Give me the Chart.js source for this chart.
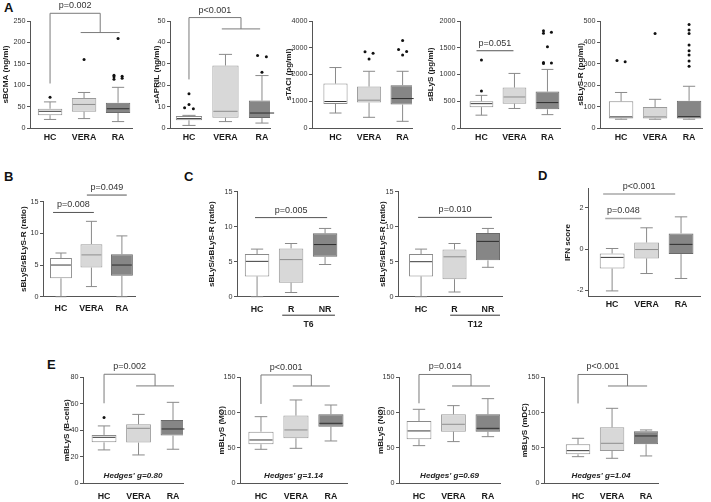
<!DOCTYPE html>
<html>
<head>
<meta charset="utf-8">
<script src="https://cdn.jsdelivr.net/npm/chart.js@4.4.1/dist/chart.umd.min.js"></script>
<style>
  body { margin: 0; width: 711px; height: 502px; position: relative; overflow: hidden; background: #fff; font-family: "Liberation Sans", Arial, sans-serif; }
  canvas { position: absolute; }
  .lt { position: absolute; font-weight: bold; font-size: 13px; color: #111; line-height: 14px; }
</style>
</head>
<body>
<div class="lt" style="left:4px;top:1px">A</div>
<div class="lt" style="left:4px;top:170px">B</div>
<div class="lt" style="left:184px;top:170px">C</div>
<div class="lt" style="left:538px;top:169px">D</div>
<div class="lt" style="left:47px;top:358px">E</div>
<script>
// the figure uses a condensed face; fall back to a scaled regular one when it is missing
const probe = document.createElement('canvas').getContext('2d');
function hasFont(name) {
  probe.font = '20px monospace';
  const a = probe.measureText('VERA HC 0123').width;
  probe.font = '20px "' + name + '", monospace';
  return probe.measureText('VERA HC 0123').width !== a;
}
const NARROW = hasFont('Liberation Sans Narrow');
const FAM = NARROW ? '"Liberation Sans Narrow", "Liberation Sans", Arial, sans-serif' : '"Liberation Sans", Arial, sans-serif';
const fs = s => NARROW ? s : Math.round(s * 0.9 * 10) / 10;
Chart.defaults.font.family = FAM;

const groups = ['HC', 'VERA', 'RA'];
const groupsT = ['HC', 'R', 'NR'];

// each box: [whisker low, q1, median, q3, whisker high]
const sBCMA = [[20, 30, 39, 45, 61], [22, 38, 55, 70, 83], [15, 35, 45, 59, 95]];
const sBCMAOut = [[72], [160], [209, 123, 121, 120, 116, 114]];
const sBCMATicks = [0, 50, 100, 150, 200, 250];

const sAPRIL = [[1.2, 3.6, 4.4, 5.6, 5.9], [3.0, 4.8, 7.8, 29.2, 34.4], [2.3, 4.7, 7.0, 12.8, 24.5]];
const sAPRILOut = [[16, 11, 9.5, 9], [], [33.9, 33.3, 26]];
const sAPRILTicks = [0, 10, 20, 30, 40, 50];

const sTACI = [[560, 900, 990, 1660, 2260], [400, 950, 1040, 1550, 2120], [250, 880, 1100, 1600, 2120]];
const sTACIOut = [[], [2850, 2790, 2580], [3270, 2930, 2860, 2730]];
const sTACITicks = [0, 1000, 2000, 3000, 4000];

const sBLyS = [[240, 390, 455, 500, 610], [365, 455, 580, 755, 1020], [250, 350, 475, 680, 1095]];
const sBLySOut = [[1270, 690], [], [1820, 1790, 1770, 1520, 1225, 1215, 1205]];
const sBLySTicks = [0, 500, 1000, 1500, 2000];

const sBLySR = [[41, 44, 52, 125, 166], [41, 44, 52, 98, 134], [41, 44, 53, 127, 195]];
const sBLySROut = [[316, 309], [442], [484, 458, 442, 388, 361, 341, 313, 289]];
const sBLySRTicks = [0, 100, 200, 300, 400, 500];

const ratioB = [[0, 2.9, 5.0, 6.1, 6.9], [1.6, 4.6, 6.6, 8.3, 11.9], [0, 3.3, 5.0, 6.7, 9.6]];
const ratioT6 = [[0, 2.9, 5.05, 6.1, 6.8], [0.6, 2.0, 5.3, 6.9, 7.6], [4.6, 5.7, 7.45, 9.05, 9.75]];
const ratioT12 = [[0, 2.9, 5.0, 6.1, 6.8], [0.67, 2.5, 5.7, 6.75, 7.6], [4.2, 5.2, 7.9, 9.1, 9.75]];
const ratioTicks = [0, 5, 10, 15];

const ifn = [[-2.02, -0.94, -0.4, -0.21, 0.03], [-1.18, -0.45, -0.02, 0.32, 1.03], [-1.42, -0.24, 0.23, 0.76, 1.56]];
const ifnTicks = [-2, 0, 2];

const mBcell = [[25.2, 30.9, 34.7, 36.5, 43.3], [21.4, 30.7, 41.5, 44.5, 52], [25.7, 36, 41, 47.8, 61.1]];
const mBcellOut = [[49.6], [], []];
const mBcellTicks = [0, 20, 40, 60, 80];
const mMac = [[48.1, 55.2, 61.3, 73.1, 94.3], [49.5, 63.7, 75.5, 95.8, 117.9], [59.9, 80.2, 84.9, 97.6, 110.8]];
const mNeu = [[53.3, 62.3, 74.1, 88.2, 104.7], [59, 73.1, 83.5, 97.6, 109.9], [66, 73.1, 77.8, 97.6, 119.8]];
const mDC = [[37.7, 41, 46.2, 55.2, 63.7], [35.4, 45.8, 56.6, 79.2, 106.1], [38.7, 55.2, 67, 73.6, 75.5]];
const mTicks = [0, 50, 100, 150];

// significance marks (y in data units, from/to in group positions)
const pBCMA = { p: 'p=0.002', leg: 104, top: 268, bar: 223, from: 1.9, to: 3.05 };
const pAPRIL = { p: 'p<0.001', leg: 22.7, top: 51.6, bar: 46.3, from: 1.9, to: 2.95 };
const pBLyS = [{ p: 'p=0.051', y: 1444, from: 0.85, to: 1.97 }];
const pB = [{ p: 'p=0.008', y: 13.3, from: 0.74, to: 2.08 }, { p: 'p=0.049', y: 16.05, from: 1.85, to: 3.16 }];
const pT6 = [{ p: 'p=0.005', y: 11.3, from: 0.94, to: 3.06 }];
const pT12 = [{ p: 'p=0.010', y: 11.33, from: 0.91, to: 3.12 }];
const pIFN = [{ p: 'p=0.048', y: 1.48, from: 0.8, to: 1.85 }, { p: 'p<0.001', y: 2.66, from: 0.74, to: 2.83 }];
const pBcell = { p: 'p=0.002', leg: 60.4, top: 82.3, bar: 73.5, from: 1.93, to: 3.03 };
const pMac = { p: 'p<0.001', leg: 112.3, top: 153.3, bar: 137.7, from: 1.91, to: 2.97 };
const pNeu = { p: 'p=0.014', leg: 113.2, top: 154, bar: 137.7, from: 1.96, to: 3.06 };
const pDC = { p: 'p<0.001', leg: 113, top: 154, bar: 137.7, from: 1.88, to: 3.03 };
const hedges = ["Hedges' g=0.80", "Hedges' g=1.14", "Hedges' g=0.69", "Hedges' g=1.04"];

const fills = ['#ffffff', '#d8d8d8', '#868686'];
const edges = ['#8a8a8a', '#9a9a9a', '#6a6a6a'];
const medians = ['#3a3a3a', '#8e8e8e', '#2e2e2e'];

// plot rectangles: ax = y axis x, top/bottom = pixel of y max/min, xr = x range
const panels = [
  { labels: groups, stats: sBCMA, out: sBCMAOut, ticks: sBCMATicks, title: 'sBCMA (ng/ml)', bracket: pBCMA,
    L: { ax: 30, top: 21, right: 132, bottom: 128, yw: 29, xr: [0.41, 3.41], xp: 4 } },
  { labels: groups, stats: sAPRIL, out: sAPRILOut, ticks: sAPRILTicks, title: 'sAPRIL (ng/ml)', bracket: pAPRIL,
    L: { ax: 170, top: 21, right: 270, bottom: 128, yw: 18, xr: [0.48, 3.22], xp: 4 } },
  { labels: groups, stats: sTACI, out: sTACIOut, ticks: sTACITicks, title: 'sTACI (pg/ml)',
    L: { ax: 312, top: 21, right: 412, bottom: 128, yw: 28, xr: [0.30, 3.28], xp: 4 } },
  { labels: groups, stats: sBLyS, out: sBLySOut, ticks: sBLySTicks, title: 'sBLyS (pg/ml)', lines: pBLyS,
    L: { ax: 460, top: 21, right: 560, bottom: 128, yw: 34, xr: [0.35, 3.38], xp: 4 } },
  { labels: groups, stats: sBLySR, out: sBLySROut, ticks: sBLySRTicks, title: 'sBLyS-R (pg/ml)',
    L: { ax: 600, top: 21, right: 702, bottom: 128, yw: 24, xr: [0.38, 3.38], xp: 4 } },
  { labels: groups, stats: ratioB, ticks: ratioTicks, title: 'sBLyS/sBLyS-R (ratio)', lines: pB,
    L: { ax: 43, top: 201.7, right: 135, bottom: 296.7, yw: 24, xr: [0.41, 3.43], xp: 7 } },
  { labels: groupsT, stats: ratioT6, ticks: ratioTicks, title: 'sBLyS/sBLyS-R (ratio)', lines: pT6,
    under: { label: 'T6', from: 1.74, to: 3.29 },
    L: { ax: 237, top: 191.7, right: 338, bottom: 296.7, yw: 30, xr: [0.41, 3.38], xp: 8 } },
  { labels: groupsT, stats: ratioT12, ticks: ratioTicks, title: 'sBLyS/sBLyS-R (ratio)', lines: pT12,
    under: { label: 'T12', from: 1.87, to: 3.36 },
    L: { ax: 398, top: 191.7, right: 502, bottom: 296.7, yw: 20, xr: [0.31, 3.42], xp: 8 } },
  { labels: groups, stats: ifn, ticks: ifnTicks, ymin: -2.3, ymax: 2.94, title: 'IFN score', lines: pIFN, lineColor: '#a8a8a8',
    L: { ax: 588, top: 188.3, right: 700, bottom: 296.7, yw: 25, xr: [0.30, 3.55], xp: 3 } },
  { labels: groups, stats: mBcell, out: mBcellOut, ticks: mBcellTicks, title: 'mBLyS (B-cells)', bracket: pBcell, hedges: hedges[0],
    L: { ax: 83, top: 377.3, right: 183, bottom: 483.3, yw: 21, xr: [0.39, 3.29], xp: 7.5 } },
  { labels: groups, stats: mMac, ticks: mTicks, title: 'mBLyS (MØ)', bracket: pMac, hedges: hedges[1],
    L: { ax: 240, top: 377.3, right: 347, bottom: 483.3, yw: 23, xr: [0.40, 3.46], xp: 7.5 } },
  { labels: groups, stats: mNeu, ticks: mTicks, title: 'mBLyS (NØ)', bracket: pNeu, hedges: hedges[2],
    L: { ax: 399, top: 377.3, right: 500, bottom: 483.3, yw: 23, xr: [0.42, 3.35], xp: 7.5 } },
  { labels: groups, stats: mDC, ticks: mTicks, title: 'mBLyS (mDC)', bracket: pDC, hedges: hedges[3],
    L: { ax: 544, top: 377.3, right: 658, bottom: 483.3, yw: 24, xr: [0.00, 3.35], xp: 7.5 } }
];

// spread outliers that sit close together, like the prism dot plots
function jitter(vals, span) {
  const res = [];
  let cl = [];
  const flush = () => {
    cl.forEach((v, k) => res.push({ v: v, d: cl.length > 1 ? (k % 2 ? 0.12 : -0.12) : 0 }));
    cl = [];
  };
  vals.forEach(v => {
    if (cl.length && Math.abs(cl[cl.length - 1] - v) > span * 0.025) flush();
    cl.push(v);
  });
  flush();
  return res;
}

function line(ctx, x1, y1, x2, y2) {
  ctx.beginPath(); ctx.moveTo(x1, y1); ctx.lineTo(x2, y2); ctx.stroke();
}

function makeExtras(p) {
  return {
    id: 'extras',
    afterDatasetsDraw(chart) {
      const ctx = chart.ctx, x = chart.scales.x, y = chart.scales.y;
      const half = (x.getPixelForValue(2) - x.getPixelForValue(1)) * 0.72 / 2;
      ctx.save();
      ctx.lineWidth = 1;
      p.stats.forEach((s, i) => {
        const cx = x.getPixelForValue(i + 1);
        ctx.strokeStyle = '#8a8a8a';
        line(ctx, cx, y.getPixelForValue(s[0]), cx, y.getPixelForValue(s[1]));
        line(ctx, cx, y.getPixelForValue(s[3]), cx, y.getPixelForValue(s[4]));
        line(ctx, cx - half * 0.5, y.getPixelForValue(s[0]), cx + half * 0.5, y.getPixelForValue(s[0]));
        line(ctx, cx - half * 0.5, y.getPixelForValue(s[4]), cx + half * 0.5, y.getPixelForValue(s[4]));
        ctx.strokeStyle = medians[i];
        line(ctx, cx - half + 1, y.getPixelForValue(s[2]), cx + half - 1, y.getPixelForValue(s[2]));
      });
      ctx.restore();
    },
    afterDraw(chart) {
      const ctx = chart.ctx, x = chart.scales.x, y = chart.scales.y, a = chart.chartArea;
      ctx.save();
      ctx.lineWidth = 1;
      ctx.textAlign = 'center';
      ctx.textBaseline = 'middle';
      ctx.font = fs(10) + 'px ' + FAM;
      if (p.bracket) {
        const b = p.bracket;
        const x1 = x.getPixelForValue(1), xm = x.getPixelForValue((b.from + b.to) / 2);
        const yt = y.getPixelForValue(b.top), yb = y.getPixelForValue(b.bar);
        ctx.strokeStyle = '#7a7a7a';
        ctx.beginPath();
        ctx.moveTo(x1, y.getPixelForValue(b.leg));
        ctx.lineTo(x1, yt); ctx.lineTo(xm, yt); ctx.lineTo(xm, yb);
        ctx.stroke();
        line(ctx, x.getPixelForValue(b.from), yb, x.getPixelForValue(b.to), yb);
        ctx.fillStyle = '#333';
        ctx.fillText(b.p, (x1 + xm) / 2, yt - 7.5);
      }
      (p.lines || []).forEach(l => {
        const yy = y.getPixelForValue(l.y);
        const x1 = x.getPixelForValue(l.from), x2 = x.getPixelForValue(l.to);
        ctx.strokeStyle = p.lineColor || '#555';
        ctx.lineWidth = p.lineColor ? 1.5 : 1;
        line(ctx, x1, yy, x2, yy);
        ctx.fillStyle = '#333';
        ctx.fillText(l.p, (x1 + x2) / 2, yy - 7.5);
      });
      if (p.hedges) {
        ctx.font = 'italic bold ' + fs(9) + 'px ' + FAM;
        ctx.fillStyle = '#222';
        ctx.fillText(p.hedges, (a.left + a.right) / 2, a.bottom - 8);
      }
      if (p.under) {
        const x1 = x.getPixelForValue(p.under.from), x2 = x.getPixelForValue(p.under.to);
        ctx.strokeStyle = '#333';
        ctx.lineWidth = 1;
        line(ctx, x1, a.bottom + 18.5, x2, a.bottom + 18.5);
        ctx.font = 'bold ' + fs(9.5) + 'px ' + FAM;
        ctx.fillStyle = '#222';
        ctx.fillText(p.under.label, (x1 + x2) / 2, a.bottom + 28);
      }
      ctx.restore();
    }
  };
}

function build(p) {
  const L = p.L, xH = 17;
  const padT = 34, padR = 6, padB = p.under ? 26 : 4;
  const left = Math.round(L.ax - L.yw - 2), top = Math.round(L.top - padT);
  const w = Math.round(L.right + padR - left), h = Math.round(L.bottom + xH + padB - top);
  const c = document.createElement('canvas');
  c.width = w; c.height = h;
  c.style.left = left + 'px'; c.style.top = top + 'px';
  document.body.appendChild(c);

  const ymin = p.ymin !== undefined ? p.ymin : p.ticks[0];
  const ymax = p.ymax !== undefined ? p.ymax : p.ticks[p.ticks.length - 1];
  const pts = [];
  (p.out || []).forEach((g, i) => jitter(g, ymax - ymin).forEach(o => pts.push({ x: i + 1 + o.d, y: o.v })));

  new Chart(c, {
    type: 'bar',
    data: {
      datasets: [
        { data: p.stats.map((s, i) => ({ x: i + 1, y: [s[1], s[3]] })),
          backgroundColor: fills, borderColor: edges, borderWidth: 1, borderSkipped: false,
          barPercentage: 1, categoryPercentage: 0.72 },
        { type: 'scatter', data: pts, pointRadius: 1.5, pointBackgroundColor: '#111', pointBorderWidth: 0 }
      ]
    },
    options: {
      responsive: false, animation: false, events: [],
      layout: { padding: { left: L.ax - L.yw - left, top: L.top - top, right: left + w - L.right, bottom: top + h - L.bottom - xH } },
      plugins: { legend: { display: false }, tooltip: { enabled: false } },
      scales: {
        x: {
          type: 'linear', min: L.xr[0], max: L.xr[1], offset: false,
          border: { color: '#555', width: 1 },
          grid: { display: false, drawTicks: false, offset: false },
          afterBuildTicks: s => { s.ticks = p.labels.map((l, i) => ({ value: i + 1 })); },
          afterFit: s => { s.height = xH; },
          ticks: { autoSkip: false, maxRotation: 0, padding: L.xp, color: '#1a1a1a',
                   font: { size: fs(9.8), weight: 'bold' }, callback: (v, i) => p.labels[i] }
        },
        y: {
          min: ymin, max: ymax,
          border: { color: '#555', width: 1 },
          grid: { drawOnChartArea: false, drawTicks: true, tickLength: 3, color: '#555' },
          afterBuildTicks: s => { s.ticks = p.ticks.map(v => ({ value: v })); },
          afterFit: s => { s.width = L.yw; },
          ticks: { padding: 1.5, color: '#333', font: { size: fs(8) }, callback: v => String(v) },
          title: { display: true, text: p.title, padding: 0, color: '#1a1a1a', font: { size: fs(9), weight: 'bold' } }
        }
      }
    },
    plugins: [makeExtras(p)]
  });
}

panels.forEach(build);
</script>
</body>
</html>
